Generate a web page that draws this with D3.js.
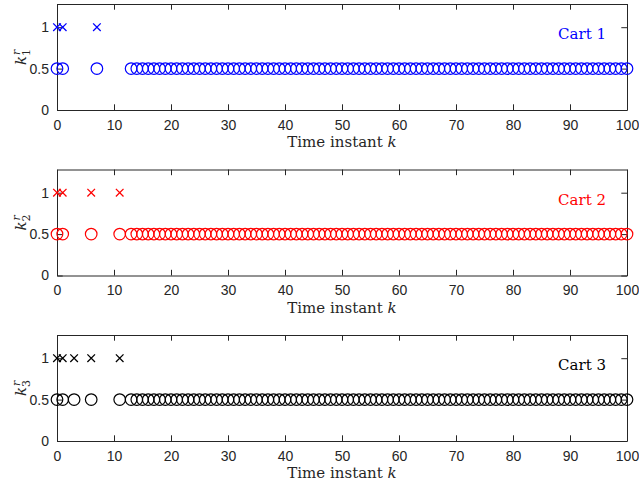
<!DOCTYPE html>
<html>
<head>
<meta charset="utf-8">
<script src="https://cdn.jsdelivr.net/npm/d3@7/dist/d3.min.js"></script>
<style>
  body { margin: 0; background: #fff; }
  svg { display: block; }
  .tick text { font-family: "Liberation Sans", Arial, sans-serif; font-size: 14px; fill: #262626; }
  .lbl { font-family: "DejaVu Serif", serif; font-size: 15px; fill: #262626; }
</style>
</head>
<body>
<svg width="639" height="484"></svg>
<script>
// time instants
const xTicks = [0, 10, 20, 30, 40, 50, 60, 70, 80, 90, 100];
const yTicks = [0, 0.5, 1];
const carts = ['Cart 1', 'Cart 2', 'Cart 3'];
const cartColors = ['#0000ff', '#ff0000', '#000000'];

// k where k_i^r = 1 (crosses)
const cross1 = [0, 1, 7];
const cross2 = [0, 1, 6, 11];
const cross3 = [0, 1, 3, 6, 11];

// k where k_i^r = 0.5 (circles)
const circle1 = [0, 1, 7, 13, 14, 15, 16, 17, 18, 19, 20, 21, 22, 23, 24, 25, 26, 27, 28, 29, 30,
  31, 32, 33, 34, 35, 36, 37, 38, 39, 40, 41, 42, 43, 44, 45, 46, 47, 48, 49, 50, 51, 52, 53, 54, 55,
  56, 57, 58, 59, 60, 61, 62, 63, 64, 65, 66, 67, 68, 69, 70, 71, 72, 73, 74, 75, 76, 77, 78, 79, 80,
  81, 82, 83, 84, 85, 86, 87, 88, 89, 90, 91, 92, 93, 94, 95, 96, 97, 98, 99, 100];
const circle2 = [0, 1, 6, 11, 13, 14, 15, 16, 17, 18, 19, 20, 21, 22, 23, 24, 25, 26, 27, 28, 29, 30,
  31, 32, 33, 34, 35, 36, 37, 38, 39, 40, 41, 42, 43, 44, 45, 46, 47, 48, 49, 50, 51, 52, 53, 54, 55,
  56, 57, 58, 59, 60, 61, 62, 63, 64, 65, 66, 67, 68, 69, 70, 71, 72, 73, 74, 75, 76, 77, 78, 79, 80,
  81, 82, 83, 84, 85, 86, 87, 88, 89, 90, 91, 92, 93, 94, 95, 96, 97, 98, 99, 100];
const circle3 = [0, 1, 3, 6, 11, 13, 14, 15, 16, 17, 18, 19, 20, 21, 22, 23, 24, 25, 26, 27, 28, 29, 30,
  31, 32, 33, 34, 35, 36, 37, 38, 39, 40, 41, 42, 43, 44, 45, 46, 47, 48, 49, 50, 51, 52, 53, 54, 55,
  56, 57, 58, 59, 60, 61, 62, 63, 64, 65, 66, 67, 68, 69, 70, 71, 72, 73, 74, 75, 76, 77, 78, 79, 80,
  81, 82, 83, 84, 85, 86, 87, 88, 89, 90, 91, 92, 93, 94, 95, 96, 97, 98, 99, 100];

const crosses = [cross1, cross2, cross3];
const circles = [circle1, circle2, circle3];

const svg = d3.select('svg');
const left = 57, right = 627;
const tops = [4, 169.5, 335];
const h = 106;

const x = d3.scaleLinear().domain([0, 100]).range([left, right]);

carts.forEach((name, i) => {
  const t = tops[i];
  const y = d3.scaleLinear().domain([0, 1.28]).range([t + h, t]);
  const col = cartColors[i];
  const g = svg.append('g');

  const tk = 5.7;
  const axes = [
    d3.axisBottom(x).tickValues(xTicks).tickSizeInner(-tk).tickSizeOuter(0).tickPadding(10),
    d3.axisTop(x).tickValues(xTicks).tickSizeInner(-tk).tickSizeOuter(0).tickFormat(''),
    d3.axisLeft(y).tickValues(yTicks).tickSizeInner(-tk).tickSizeOuter(0).tickPadding(8).tickFormat(d3.format('')),
    d3.axisRight(y).tickValues(yTicks).tickSizeInner(-tk).tickSizeOuter(0).tickFormat('')
  ];
  const pos = [`translate(0,${t + h})`, `translate(0,${t})`, `translate(${left},0)`, `translate(${right},0)`];
  axes.forEach((a, j) => {
    const ag = g.append('g').attr('transform', pos[j]).call(a);
    ag.select('.domain').attr('stroke', '#262626').attr('stroke-width', 1);
    ag.selectAll('.tick line').attr('stroke', '#262626').attr('stroke-width', 1);
  });

  // circles at 0.5
  g.append('g').selectAll('circle').data(circles[i]).join('circle')
    .attr('cx', d => x(d)).attr('cy', y(0.5)).attr('r', 5.8)
    .attr('fill', 'none').attr('stroke', col).attr('stroke-width', 1.2);

  // crosses at 1
  const s = 3.8;
  g.append('g').selectAll('path').data(crosses[i]).join('path')
    .attr('d', d => `M${x(d) - s},${y(1) - s}L${x(d) + s},${y(1) + s}M${x(d) - s},${y(1) + s}L${x(d) + s},${y(1) - s}`)
    .attr('fill', 'none').attr('stroke', col).attr('stroke-width', 1.3);

  // cart label
  g.append('text').attr('class', 'lbl').attr('x', 606).attr('y', t + 35)
    .attr('text-anchor', 'end').style('fill', col).text(name);

  // x label
  const xl = g.append('text').attr('class', 'lbl').attr('x', (left + right) / 2).attr('y', t + h + 37)
    .attr('text-anchor', 'middle');
  xl.append('tspan').text('Time instant ');
  xl.append('tspan').attr('font-style', 'italic').text('k');

  // y label k_i^r
  const yl = g.append('text').attr('class', 'lbl')
    .attr('transform', `translate(26,${t + h / 2}) rotate(-90)`).attr('text-anchor', 'middle');
  yl.append('tspan').attr('font-style', 'italic').text('k');
  yl.append('tspan').attr('font-size', 11).attr('dy', 4).text(String(i + 1));
  yl.append('tspan').attr('font-size', 11).attr('font-style', 'italic').attr('dx', -6).attr('dy', -10).text('r');
});
</script>
</body>
</html>
